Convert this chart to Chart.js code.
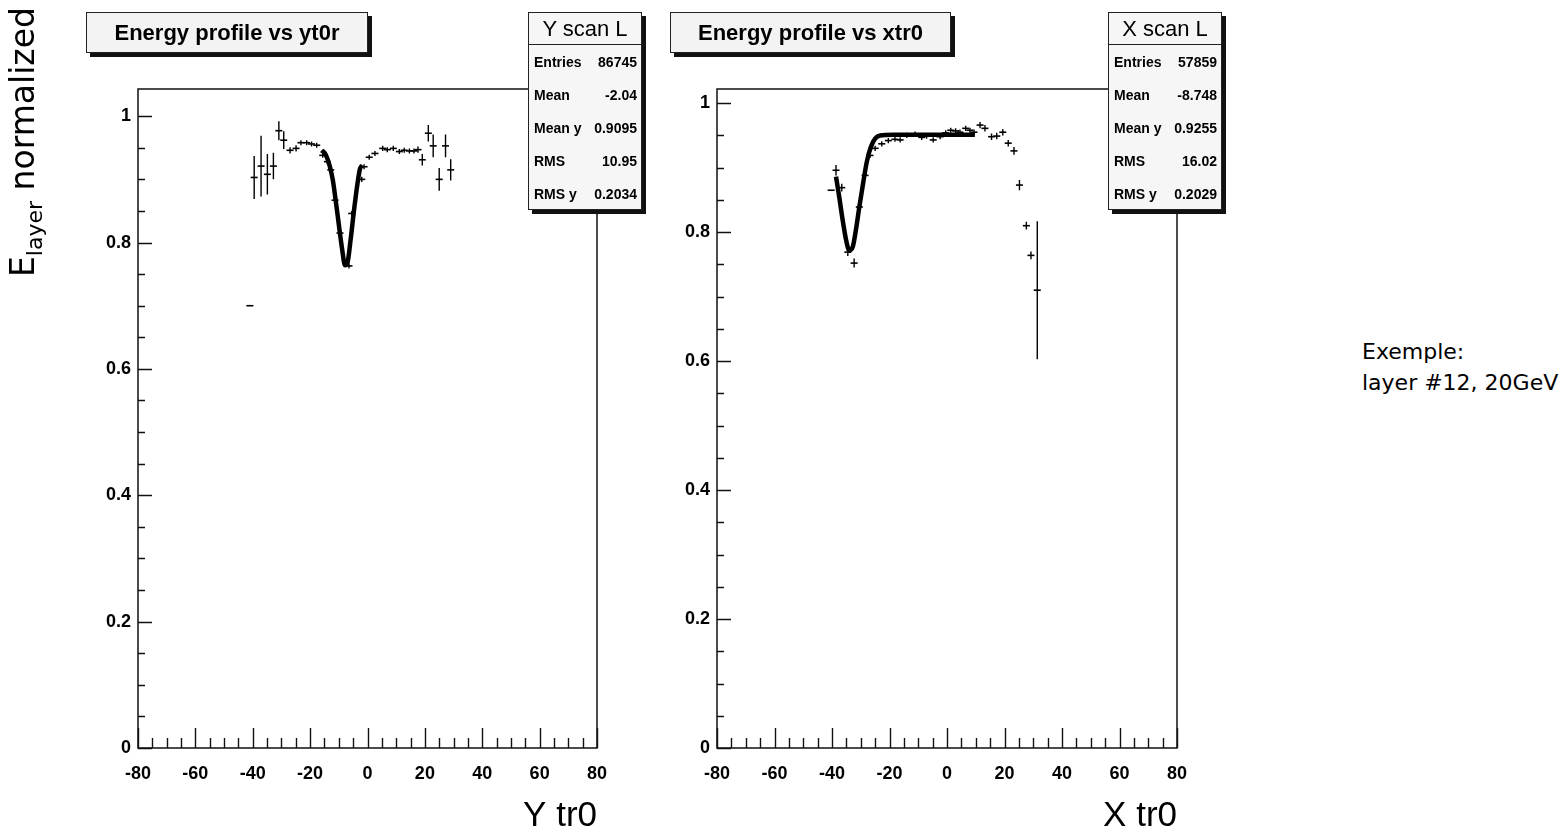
<!DOCTYPE html>
<html>
<head>
<meta charset="utf-8">
<title>Energy profile vs yt0r / xtr0</title>
<script src="https://cdn.jsdelivr.net/npm/chart.js@4.4.0/dist/chart.umd.min.js"></script>
<style>
  body { margin: 0; background: #fff; }
  #page { position: relative; width: 1562px; height: 837px; overflow: hidden; font-family: "Liberation Sans", Arial, sans-serif; color: #000; }
  canvas { position: absolute; top: 0; }
  .title-box { position: absolute; top: 12px; height: 41px; box-sizing: border-box; background: #f3f3f3; border: 1.5px solid #222; box-shadow: 4px 4px 0 #111; font-weight: bold; font-size: 22px; display: flex; align-items: center; justify-content: center; }
  .stats { position: absolute; top: 12px; width: 114px; height: 198px; box-sizing: border-box; background: #f6f6f6; border: 1.5px solid #222; box-shadow: 4px 4px 0 #111; }
  .stats .head { height: 31px; line-height: 31px; border-bottom: 1px solid #222; font-size: 22px; text-align: center; }
  .stats .row { height: 33px; display: flex; justify-content: space-between; align-items: center; padding: 0 4px 0 5px; font-weight: bold; font-size: 14px; }
  #ytitle { position: absolute; left: 1px; top: 277px; transform: rotate(-90deg); transform-origin: 0 0; white-space: nowrap; font-family: "DejaVu Sans", sans-serif; font-size: 33px; line-height: 44px; }
  #ytitle sub { font-size: 22px; line-height: 0; vertical-align: -0.35em; }
  #note { position: absolute; left: 1362px; top: 336px; font-family: "DejaVu Sans", sans-serif; font-size: 22px; line-height: 31px; }
</style>
</head>
<body>
<div id="page">
  <canvas id="yscanChart" width="650" height="837" style="left:0"></canvas>
  <canvas id="xscanChart" width="590" height="837" style="left:650px"></canvas>

  <div id="ytitle">E<sub>layer</sub> normalized</div>

  <div class="title-box" style="left:86px; width:282px;">Energy profile vs yt0r</div>
  <div class="title-box" style="left:670px; width:281px;">Energy profile vs xtr0</div>

  <div class="stats" id="yscanStats" style="left:528px;"></div>
  <div class="stats" id="xscanStats" style="left:1108px;"></div>

  <div id="note">Exemple:<br>layer #12, 20GeV</div>
</div>

<script>
// axis ticks
const xTickValues = [-80, -60, -40, -20, 0, 20, 40, 60, 80];
const xTickLabels = ['-80', '-60', '-40', '-20', '0', '20', '40', '60', '80'];
const yTickValues = [0, 0.2, 0.4, 0.6, 0.8, 1];
const yTickLabels = ['0', '0.2', '0.4', '0.6', '0.8', '1'];

// stats boxes
const statLabels = ['Entries', 'Mean', 'Mean y', 'RMS', 'RMS y'];
const yscanStats = ['86745', '-2.04', '0.9095', '10.95', '0.2034'];
const xscanStats = ['57859', '-8.748', '0.9255', '16.02', '0.2029'];

// Y scan L : profile points (x, mean, error)
const yscanX   = [-41, -39.5, -37.1, -34.9, -32.8, -30.9, -29.2, -27.0, -24.9, -23.2, -21.2, -19.5, -17.7, -15.6, -14.0, -12.8, -11.3, -9.6, -6.45, -5.5, -2.0, -1.2, 0.6, 2.6, 5.3, 6.9, 9.0, 11.1, 12.8, 14.6, 16.2, 17.6, 19.1, 21.2, 22.9, 25.0, 27.2, 29.0];
const yscanY   = [0.700, 0.903, 0.921, 0.908, 0.921, 0.977, 0.962, 0.946, 0.949, 0.958, 0.958, 0.956, 0.954, 0.938, 0.928, 0.915, 0.867, 0.815, 0.763, 0.846, 0.900, 0.920, 0.935, 0.941, 0.949, 0.947, 0.949, 0.944, 0.946, 0.945, 0.945, 0.947, 0.931, 0.973, 0.953, 0.900, 0.953, 0.915];
const yscanErr = [0, 0.034, 0.048, 0.032, 0.021, 0.015, 0.014, 0.005, 0.005, 0.004, 0.004, 0.004, 0.004, 0.004, 0.004, 0.004, 0.004, 0.004, 0.004, 0.004, 0.004, 0.004, 0.004, 0.004, 0.004, 0.004, 0.004, 0.004, 0.004, 0.004, 0.004, 0.005, 0.009, 0.013, 0.018, 0.018, 0.018, 0.017];

// Y scan L : fitted dip
const yfitX = [-16.0, -14.8, -14.0, -13.1, -12.1, -11.1, -9.9, -8.8, -7.85, -7.05, -5.9, -4.7, -3.5, -2.6, -1.7];
const yfitY = [0.946, 0.941, 0.933, 0.920, 0.899, 0.867, 0.825, 0.788, 0.764, 0.767, 0.804, 0.851, 0.893, 0.917, 0.922];

// X scan L : profile points
const xscanX   = [-40.3, -38.6, -36.6, -34.5, -32.3, -30.5, -28.5, -26.8, -25.0, -22.7, -20.4, -18.1, -16.3, -14.0, -11.1, -8.8, -7.1, -4.8, -2.4, -0.45, 1.3, 3.0, 4.5, 6.5, 8.0, 9.4, 11.5, 13.2, 15.5, 17.3, 19.4, 21.3, 23.3, 25.2, 27.6, 29.2, 31.4];
const xscanY   = [0.865, 0.896, 0.869, 0.769, 0.752, 0.839, 0.888, 0.919, 0.930, 0.937, 0.942, 0.944, 0.943, 0.950, 0.952, 0.947, 0.949, 0.943, 0.948, 0.954, 0.958, 0.957, 0.955, 0.961, 0.958, 0.955, 0.966, 0.961, 0.948, 0.949, 0.955, 0.938, 0.926, 0.873, 0.810, 0.764, 0.710];
const xscanErr = [0, 0.008, 0.006, 0.006, 0.007, 0.004, 0.004, 0.004, 0.004, 0.004, 0.004, 0.004, 0.004, 0.004, 0.004, 0.004, 0.004, 0.004, 0.004, 0.004, 0.004, 0.004, 0.004, 0.004, 0.004, 0.004, 0.005, 0.005, 0.005, 0.005, 0.005, 0.005, 0.006, 0.008, 0.006, 0.006, 0.107];

// X scan L : fitted dip + plateau
const xfitX = [-38.6, -37.5, -36.3, -35.1, -34.0, -32.8, -31.7, -30.5, -29.1, -27.9, -26.5, -25.0, -23.3, -18.7, 9.7];
const xfitY = [0.886, 0.855, 0.819, 0.788, 0.772, 0.777, 0.803, 0.839, 0.878, 0.909, 0.932, 0.945, 0.950, 0.951, 0.951];

function fillStats(id, values) {
    const box = document.getElementById(id);
    const name = id === 'yscanStats' ? 'Y scan L' : 'X scan L';
    let html = '<div class="head">' + name + '</div>';
    statLabels.forEach((label, i) => {
        html += '<div class="row"><span>' + label + '</span><span>' + values[i] + '</span></div>';
    });
    box.innerHTML = html;
}
fillStats('yscanStats', yscanStats);
fillStats('xscanStats', xscanStats);

function toPoints(xs, ys) {
    return xs.map((x, i) => ({ x: x, y: ys[i] }));
}

// vertical error bars as separate segments (null breaks the line)
function errorSegments(xs, ys, errs) {
    const out = [];
    xs.forEach((x, i) => {
        if (errs[i] > 0) {
            out.push({ x: x, y: ys[i] - errs[i] }, { x: x, y: ys[i] + errs[i] }, { x: x, y: null });
        }
    });
    return out;
}

// ROOT style frame with ticks drawn inside
const rootFrame = {
    id: 'rootFrame',
    afterDraw(chart) {
        const ctx = chart.ctx;
        const a = chart.chartArea;
        const xs = chart.scales.x;
        const ys = chart.scales.y;
        ctx.save();
        ctx.strokeStyle = '#111';
        ctx.lineWidth = 1.5;
        ctx.strokeRect(a.left, a.top, a.right - a.left, a.bottom - a.top);
        ctx.lineWidth = 1.4;
        ctx.beginPath();
        for (let k = -16; k <= 16; k++) {
            const px = Math.round(xs.getPixelForValue(k * 5)) + 0.5;
            const len = k % 4 === 0 ? 20 : 10;
            ctx.moveTo(px, a.bottom);
            ctx.lineTo(px, a.bottom - len);
        }
        for (let k = 0; k * 0.05 <= ys.max; k++) {
            const py = Math.round(ys.getPixelForValue(k * 0.05)) + 0.5;
            const len = k % 4 === 0 ? 14 : 7;
            ctx.moveTo(a.left, py);
            ctx.lineTo(a.left + len, py);
        }
        ctx.stroke();
        ctx.restore();
    }
};

function makeChart(canvasId, pts, errs, fitPts, opts) {
    const ctx = document.getElementById(canvasId).getContext('2d');
    return new Chart(ctx, {
        type: 'scatter',
        data: {
            datasets: [
                {
                    label: 'fit',
                    data: fitPts,
                    showLine: true,
                    borderColor: '#000',
                    borderWidth: 4.5,
                    pointRadius: 0,
                    cubicInterpolationMode: 'monotone'
                },
                {
                    label: 'errors',
                    data: errs,
                    showLine: true,
                    spanGaps: false,
                    borderColor: '#000',
                    borderWidth: 1.4,
                    pointRadius: 0
                },
                {
                    label: 'profile',
                    data: pts,
                    pointStyle: 'line',
                    pointRadius: 3.5,
                    borderColor: '#000',
                    borderWidth: 1.6,
                    backgroundColor: '#000'
                }
            ]
        },
        options: {
            responsive: false,
            animation: false,
            devicePixelRatio: 1,
            layout: { padding: { top: 89, right: opts.padRight, bottom: 0, left: 0 } },
            plugins: { legend: { display: false }, tooltip: { enabled: false } },
            scales: {
                x: {
                    type: 'linear',
                    min: -80,
                    max: 80,
                    grid: { display: false, drawTicks: false },
                    border: { display: false },
                    afterBuildTicks: (scale) => { scale.ticks = xTickValues.map(v => ({ value: v })); },
                    afterFit: (scale) => { scale.height = 89; },
                    ticks: {
                        padding: 15,
                        color: '#000',
                        font: { family: 'Liberation Sans', weight: 'bold', size: 18 },
                        callback: (value, index) => xTickLabels[index]
                    },
                    title: {
                        display: true,
                        text: opts.xTitle,
                        align: 'end',
                        color: '#000',
                        padding: { top: 0, bottom: 3 },
                        font: { family: 'Liberation Sans', size: 35, lineHeight: 1 }
                    }
                },
                y: {
                    type: 'linear',
                    min: 0,
                    max: opts.yMax,
                    grid: { display: false, drawTicks: false },
                    border: { display: false },
                    afterBuildTicks: (scale) => { scale.ticks = yTickValues.map(v => ({ value: v })); },
                    afterFit: (scale) => { scale.width = opts.yAxisWidth; },
                    ticks: {
                        padding: 7,
                        color: '#000',
                        font: { family: 'Liberation Sans', weight: 'bold', size: 18 },
                        callback: (value, index) => yTickLabels[index]
                    }
                }
            }
        },
        plugins: [rootFrame]
    });
}

makeChart('yscanChart',
    toPoints(yscanX, yscanY),
    errorSegments(yscanX, yscanY, yscanErr),
    toPoints(yfitX, yfitY),
    { xTitle: 'Y tr0', yMax: 1.043, yAxisWidth: 138, padRight: 53 });

makeChart('xscanChart',
    toPoints(xscanX, xscanY),
    errorSegments(xscanX, xscanY, xscanErr),
    toPoints(xfitX, xfitY),
    { xTitle: 'X tr0', yMax: 1.022, yAxisWidth: 67, padRight: 63 });
</script>
</body>
</html>
